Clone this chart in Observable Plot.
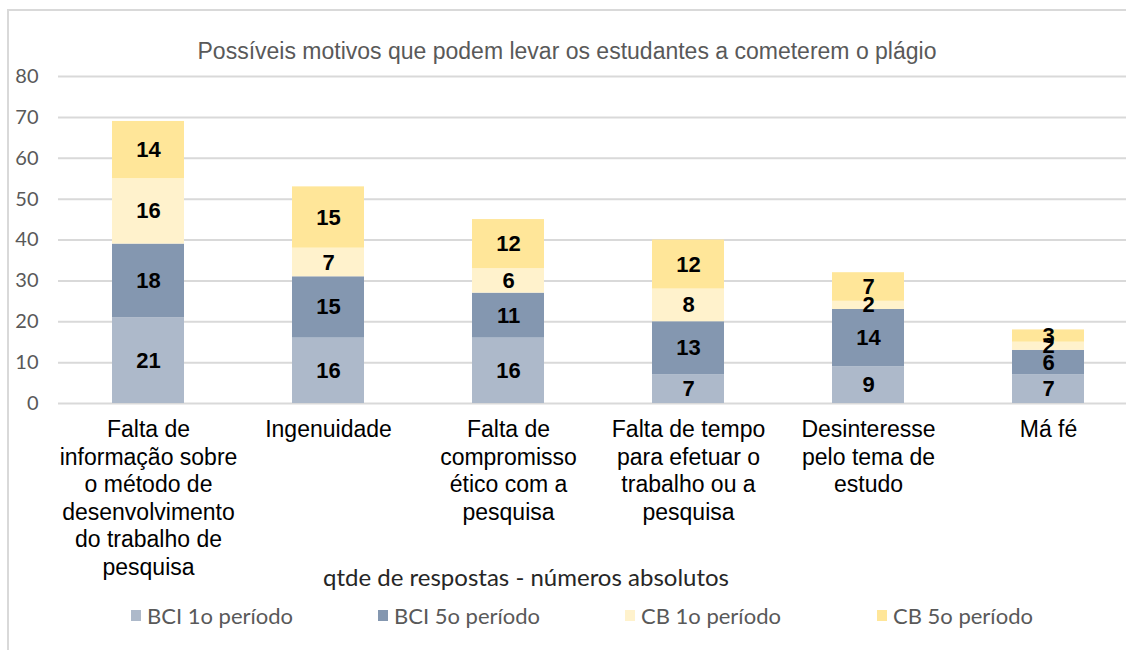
<!DOCTYPE html>
<html><head><meta charset="utf-8">
<script src="https://cdn.jsdelivr.net/npm/d3@7"></script>
<script src="https://cdn.jsdelivr.net/npm/@observablehq/plot@0.6"></script>
<style>
html,body{margin:0;padding:0;overflow:hidden;background:#fff}
#wrap{position:relative;width:1126px;height:650px;overflow:hidden}
#frame{position:absolute;left:7px;top:9px;width:1130px;height:660px;border-left:2px solid #d9d9d9;border-top:2px solid #d9d9d9;box-sizing:border-box}
#title{position:absolute;top:38px;left:0;width:1134px;text-align:center;font-family:"Liberation Sans",Arial,sans-serif;font-size:23px;color:#595959;letter-spacing:0px;white-space:nowrap}
#chart{position:absolute;left:0;top:0}
#xtitle{position:absolute;top:562px;left:323px;font-family:Lato,sans-serif;font-size:24px;color:#262626;white-space:nowrap}
.leg{position:absolute;top:602px;font-family:Lato,sans-serif;font-size:22px;color:#595959;white-space:nowrap;display:flex;align-items:center}
.sw{display:inline-block;width:10px;height:11px;margin-right:6px}
</style></head>
<body>
<div id="wrap">
  <div id="frame"></div>
  <div id="chart"></div>
  <div id="title"></div>
  <div id="xtitle"></div>
  <div id="legend"></div>
</div>
<script>
const categories = [
  "Falta de\ninformação sobre\no método de\ndesenvolvimento\ndo trabalho de\npesquisa",
  "Ingenuidade",
  "Falta de\ncompromisso\nético com a\npesquisa",
  "Falta de tempo\npara efetuar o\ntrabalho ou a\npesquisa",
  "Desinteresse\npelo tema de\nestudo",
  "Má fé"
];
const seriesNames = ["BCI 1o período", "BCI 5o período", "CB 1o período", "CB 5o período"];
const bci1 = [21, 16, 16, 7, 9, 7];
const bci5 = [18, 15, 11, 13, 14, 6];
const cb1  = [16, 7, 6, 8, 2, 2];
const cb5  = [14, 15, 12, 12, 7, 3];
const seriesColors = ["#adb9ca", "#8497b0", "#fff2cc", "#ffe699"];
const yTicks = [0, 10, 20, 30, 40, 50, 60, 70, 80];
const titleText = "Possíveis motivos que podem levar os estudantes a cometerem o plágio";
const axisTitle = "qtde de respostas - números absolutos";

const allSeries = [bci1, bci5, cb1, cb5];
const data = [];
categories.forEach((c, i) => {
  allSeries.forEach((arr, j) => data.push({cat: c, series: seriesNames[j], value: arr[i]}));
});

const chart = Plot.plot({
  width: 1126,
  height: 600,
  marginTop: 76,
  marginBottom: 197,
  marginLeft: 58,
  marginRight: 0,
  style: {fontFamily: "Liberation Sans, Arial, sans-serif", background: "transparent", overflow: "visible"},
  x: {domain: categories, range: [58, 1138], paddingInner: 0.6, paddingOuter: 0.3, label: null},
  y: {domain: [0, 80], label: null},
  color: {domain: seriesNames, range: seriesColors},
  marks: [
    Plot.ruleY(yTicks, {stroke: "#d9d9d9", strokeWidth: 2}),
    Plot.barY(data, {x: "cat", y: "value", fill: "series", order: null}),
    Plot.text(data, Plot.stackY({x: "cat", y: "value", z: "series", text: d => String(d.value), fontWeight: "bold", fontSize: 22, fill: "#000"})),
    Plot.axisY(yTicks, {tickSize: 0, tickPadding: 20, fontSize: 20, fontFamily: "Lato, sans-serif", color: "#595959", label: null}),
    Plot.axisX({tickSize: 0, tickPadding: 14, fontSize: 23, lineHeight: 1.2, color: "#000", label: null})
  ]
});
document.getElementById("chart").appendChild(chart);
document.getElementById("title").textContent = titleText;
document.getElementById("xtitle").textContent = axisTitle;

const legX = [131, 378, 625, 877];
const leg = document.getElementById("legend");
seriesNames.forEach((s, i) => {
  const d = document.createElement("div");
  d.className = "leg";
  d.style.left = legX[i] + "px";
  const sw = document.createElement("span");
  sw.className = "sw";
  sw.style.background = seriesColors[i];
  d.appendChild(sw);
  d.appendChild(document.createTextNode(s));
  leg.appendChild(d);
});
</script>
</body></html>
